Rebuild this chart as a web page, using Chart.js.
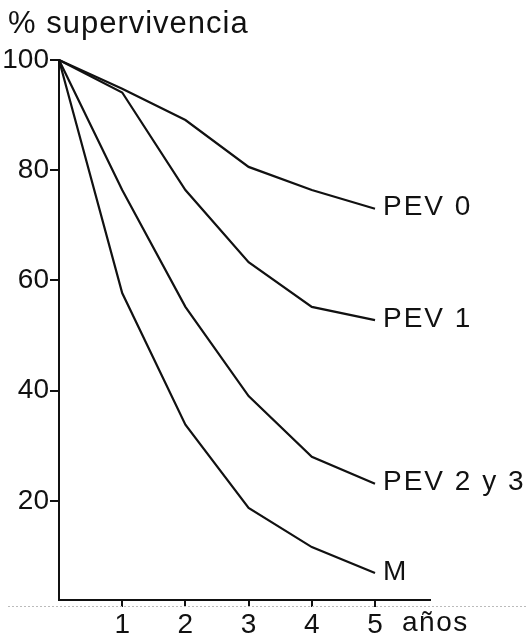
<!DOCTYPE html>
<html>
<head>
<meta charset="utf-8">
<script src="https://cdn.jsdelivr.net/npm/chart.js@4.4.1/dist/chart.umd.min.js"></script>
<style>
  html, body { margin: 0; padding: 0; background: #fff; }
  #wrap { width: 528px; height: 637px; position: relative; }
</style>
</head>
<body>
<div id="wrap"><canvas id="chart"></canvas></div>
<script>
// data
var years = [0, 1, 2, 3, 4, 5];
var pev0 = [100, 94.8, 89.1, 80.6, 76.4, 73.0];
var pev1 = [100, 94.1, 76.4, 63.3, 55.2, 52.8];
var pev23 = [100, 76.4, 55.2, 39.0, 28.0, 23.1];
var mort = [100, 57.7, 33.8, 18.7, 11.6, 6.9];
var seriesNames = ["PEV 0", "PEV 1", "PEV 2 y 3", "M"];
var yTicks = [20, 40, 60, 80, 100];
var xTicks = [1, 2, 3, 4, 5];
var yTitle = "% supervivencia";
var xTitle = "años";

var FONT = "'Liberation Sans', Arial, sans-serif";

function toPoints(vals) {
    return years.map(function (x, i) { return { x: x, y: vals[i] }; });
}

function makeSet(name, vals) {
    return {
        label: name,
        data: toPoints(vals),
        borderColor: "#111",
        borderWidth: 2.2,
        pointRadius: 0,
        tension: 0,
        fill: false,
        clip: false
    };
}

//Labels, titles and scan line

var labelPlugin = {
    id: "labels",
    afterDraw: function (chart) {
        var ctx = chart.ctx;
        var area = chart.chartArea;
        ctx.save();
        ctx.fillStyle = "#111";

        // y title
        ctx.font = "31px " + FONT;
        ctx.letterSpacing = "1px";
        ctx.textAlign = "left";
        ctx.textBaseline = "alphabetic";
        ctx.fillText(yTitle, 8, 33);

        // series names at the end of each line
        ctx.font = "28px " + FONT;
        ctx.letterSpacing = "2px";
        ctx.textBaseline = "middle";
        chart.data.datasets.forEach(function (ds, i) {
            var meta = chart.getDatasetMeta(i);
            var last = meta.data[meta.data.length - 1];
            ctx.fillText(ds.label, last.x + 8, last.y - 1);
        });

        // x title next to the last tick
        var xs = chart.scales.x;
        ctx.textBaseline = "top";
        ctx.letterSpacing = "1.5px";
        ctx.fillText(xTitle, xs.getPixelForValue(xTicks[xTicks.length - 1]) + 27, area.bottom + 9);

        // faint dotted scan line
        ctx.letterSpacing = "0px";
        ctx.strokeStyle = "#bbb";
        ctx.lineWidth = 1;
        ctx.setLineDash([2, 2]);
        ctx.beginPath();
        ctx.moveTo(8, area.bottom + 6.5);
        ctx.lineTo(528, area.bottom + 6.5);
        ctx.stroke();
        ctx.restore();
    }
};

var chart = new Chart(document.getElementById("chart"), {
    type: "line",
    data: {
        datasets: [
            makeSet(seriesNames[0], pev0),
            makeSet(seriesNames[1], pev1),
            makeSet(seriesNames[2], pev23),
            makeSet(seriesNames[3], mort)
        ]
    },
    options: {
        responsive: true,
        maintainAspectRatio: false,
        animation: false,
        layout: {
            padding: { top: 60, right: 98, left: 0, bottom: 0 }
        },
        plugins: {
            legend: { display: false },
            tooltip: { enabled: false },
            title: { display: false }
        },
        scales: {
            x: {
                type: "linear",
                min: 0,
                max: 5.87,
                afterBuildTicks: function (scale) {
                    scale.ticks = xTicks.map(function (v) { return { value: v }; });
                },
                afterFit: function (scale) {
                    scale.height = 37;
                },
                border: { color: "#111", width: 2 },
                grid: {
                    drawOnChartArea: false,
                    drawTicks: true,
                    tickLength: 7,
                    color: "#111",
                    lineWidth: 2
                },
                ticks: {
                    color: "#111",
                    font: { family: FONT, size: 28 },
                    padding: 1,
                    maxRotation: 0,
                    autoSkip: false
                }
            },
            y: {
                type: "linear",
                min: 2,
                max: 100,
                afterBuildTicks: function (scale) {
                    scale.ticks = yTicks.map(function (v) { return { value: v }; });
                },
                afterFit: function (scale) {
                    scale.width = 59;
                },
                border: { color: "#111", width: 2 },
                grid: {
                    drawOnChartArea: false,
                    drawTicks: true,
                    tickLength: 9,
                    color: "#111",
                    lineWidth: 2
                },
                ticks: {
                    color: "#111",
                    font: { family: FONT, size: 28 },
                    padding: 1
                }
            }
        }
    },
    plugins: [labelPlugin]
});
</script>
</body>
</html>
